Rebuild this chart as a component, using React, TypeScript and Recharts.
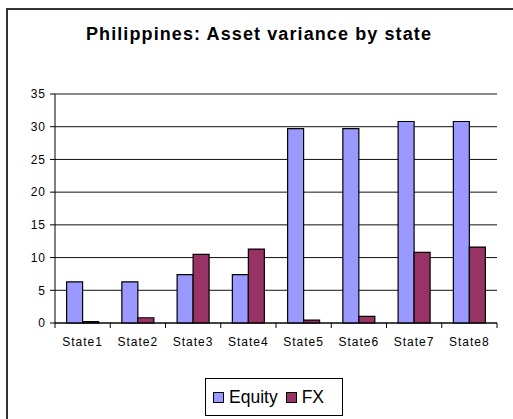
import { BarChart, Bar, XAxis, YAxis, CartesianGrid } from "recharts";

const states = ["State1", "State2", "State3", "State4", "State5", "State6", "State7", "State8"];
const equity = [6.3, 6.3, 7.4, 7.4, 29.7, 29.7, 30.8, 30.8];
const fx = [0.2, 0.8, 10.5, 11.3, 0.45, 1.0, 10.8, 11.6];
const yTicks = [0, 5, 10, 15, 20, 25, 30, 35];

const data = states.map((s, i) => ({ state: s, Equity: equity[i], FX: fx[i] }));

const font = "'Liberation Sans', Arial, sans-serif";
const BAND = 442 / states.length;

function StateTick(props: any) {
  const { x, y, payload, index } = props;
  return (
    <g>
      <line x1={x - BAND / 2} y1={y - 8} x2={x - BAND / 2} y2={y - 3} stroke="#000" />
      {index === states.length - 1 && (
        <line x1={x + BAND / 2} y1={y - 8} x2={x + BAND / 2} y2={y - 3} stroke="#000" />
      )}
      <text x={x} y={y + 15} textAnchor="middle" fontSize={12} letterSpacing={1} fill="#000" fontFamily={font}>
        {payload.value}
      </text>
    </g>
  );
}

function LegendBox() {
  const item = (color: string, label: string) => (
    <span style={{ display: "inline-flex", alignItems: "center", marginRight: 8 }}>
      <span style={{ width: 9, height: 9, background: color, border: "1px solid #000", marginRight: 5 }} />
      {label}
    </span>
  );
  return (
    <div
      style={{
        position: "absolute",
        left: 205,
        top: 378,
        width: 138,
        height: 38,
        border: "1px solid #000",
        boxSizing: "border-box",
        display: "flex",
        alignItems: "center",
        paddingLeft: 7,
        fontFamily: font,
        fontSize: 17.5,
        background: "#fff",
      }}
    >
      {item("#9999FF", "Equity")}
      {item("#993366", "FX")}
    </div>
  );
}

export default function App() {
  return (
    <div style={{ position: "absolute", left: 0, top: 0, width: 513, height: 419, overflow: "hidden", background: "#fff" }}>
      <div
        style={{
          position: "absolute",
          left: 6,
          top: 8,
          width: 540,
          height: 440,
          borderLeft: "2px solid #333",
          borderTop: "2px solid #333",
        }}
      />
      <div
        style={{
          position: "absolute",
          left: 0,
          width: 518,
          top: 25,
          textAlign: "center",
          fontFamily: font,
          fontWeight: "bold",
          fontSize: 18,
          lineHeight: "18px",
          letterSpacing: 1.1,
        }}
      >
        Philippines: Asset variance by state
      </div>
      <div style={{ position: "absolute", left: 0, top: 0 }}>
        <BarChart
          width={513}
          height={419}
          data={data}
          margin={{ top: 94, right: 16, left: 15, bottom: 66 }}
          barCategoryGap="21%"
          barGap={0}
        >
          <CartesianGrid vertical={false} stroke="#111" />
          <XAxis
            dataKey="state"
            height={30}
            axisLine={{ stroke: "#000" }}
            tickLine={false}
            tick={<StateTick />}
            interval={0}
          />
          <XAxis xAxisId="top" dataKey="state" orientation="top" height={0} tick={false} tickLine={false} axisLine={{ stroke: "#888" }} />
          <YAxis
            domain={[0, 35]}
            ticks={yTicks}
            width={40}
            axisLine={{ stroke: "#000" }}
            tickLine={{ stroke: "#000" }}
            tickSize={5}
            tickMargin={4}
            tick={{ fontSize: 12, fill: "#000", fontFamily: font, letterSpacing: 1 }}
          />
          <YAxis yAxisId="right" orientation="right" width={0} domain={[0, 35]} tick={false} tickLine={false} axisLine={{ stroke: "#888" }} />
          <Bar dataKey="Equity" fill="#9999FF" stroke="#000" strokeWidth={1.2} isAnimationActive={false} />
          <Bar dataKey="FX" fill="#993366" stroke="#000" strokeWidth={1.2} isAnimationActive={false} />
        </BarChart>
      </div>
      <LegendBox />
    </div>
  );
}
